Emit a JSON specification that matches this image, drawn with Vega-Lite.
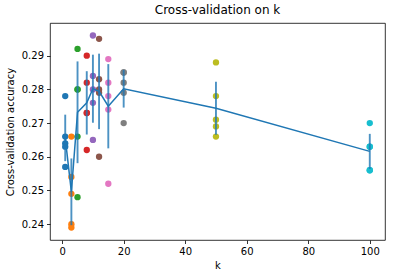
{
  "$schema": "https://vega.github.io/schema/vega-lite/v6.json",
  "width": 335,
  "height": 217,
  "autosize": "none",
  "padding": {"left": 50, "top": 23, "right": 10, "bottom": 38},
  "background": "white",
  "title": {"text": "Cross-validation on k", "font": "DejaVu Sans", "fontSize": 12, "fontWeight": "normal", "color": "#000", "offset": 6, "anchor": "middle"},
  "config": {
    "view": {"stroke": "#000", "strokeWidth": 0.8},
    "axis": {"domain": false, "grid": false, "tickColor": "#000", "tickSize": 3.5, "tickWidth": 0.8, "labelFont": "DejaVu Sans", "labelFontSize": 10, "labelColor": "#000", "labelPadding": 3, "titleFont": "DejaVu Sans", "titleFontSize": 10, "titleFontWeight": "normal", "titleColor": "#000"}
  },
  "datasets": {
    "folds": [
      {"k": 1, "acc": 0.278}, {"k": 1, "acc": 0.266}, {"k": 1, "acc": 0.264}, {"k": 1, "acc": 0.263}, {"k": 1, "acc": 0.257},
      {"k": 3, "acc": 0.266}, {"k": 3, "acc": 0.254}, {"k": 3, "acc": 0.249}, {"k": 3, "acc": 0.240}, {"k": 3, "acc": 0.239},
      {"k": 5, "acc": 0.292}, {"k": 5, "acc": 0.280}, {"k": 5, "acc": 0.280}, {"k": 5, "acc": 0.266}, {"k": 5, "acc": 0.248},
      {"k": 8, "acc": 0.290}, {"k": 8, "acc": 0.282}, {"k": 8, "acc": 0.273}, {"k": 8, "acc": 0.273}, {"k": 8, "acc": 0.262},
      {"k": 10, "acc": 0.296}, {"k": 10, "acc": 0.284}, {"k": 10, "acc": 0.280}, {"k": 10, "acc": 0.276}, {"k": 10, "acc": 0.265},
      {"k": 12, "acc": 0.295}, {"k": 12, "acc": 0.283}, {"k": 12, "acc": 0.280}, {"k": 12, "acc": 0.279}, {"k": 12, "acc": 0.260},
      {"k": 15, "acc": 0.289}, {"k": 15, "acc": 0.282}, {"k": 15, "acc": 0.278}, {"k": 15, "acc": 0.274}, {"k": 15, "acc": 0.252},
      {"k": 20, "acc": 0.285}, {"k": 20, "acc": 0.285}, {"k": 20, "acc": 0.282}, {"k": 20, "acc": 0.279}, {"k": 20, "acc": 0.270},
      {"k": 50, "acc": 0.288}, {"k": 50, "acc": 0.278}, {"k": 50, "acc": 0.271}, {"k": 50, "acc": 0.269}, {"k": 50, "acc": 0.266},
      {"k": 100, "acc": 0.270}, {"k": 100, "acc": 0.263}, {"k": 100, "acc": 0.263}, {"k": 100, "acc": 0.256}, {"k": 100, "acc": 0.256}
    ],
    "summary": [
      {"k": 1, "mean": 0.2656, "lo": 0.2587, "hi": 0.2725},
      {"k": 3, "mean": 0.2496, "lo": 0.2397, "hi": 0.2595},
      {"k": 5, "mean": 0.2732, "lo": 0.2581, "hi": 0.2883},
      {"k": 8, "mean": 0.2760, "lo": 0.2666, "hi": 0.2854},
      {"k": 10, "mean": 0.2802, "lo": 0.2701, "hi": 0.2903},
      {"k": 12, "mean": 0.2794, "lo": 0.2682, "hi": 0.2906},
      {"k": 15, "mean": 0.2750, "lo": 0.2625, "hi": 0.2875},
      {"k": 20, "mean": 0.2802, "lo": 0.2746, "hi": 0.2858},
      {"k": 50, "mean": 0.2744, "lo": 0.2665, "hi": 0.2823},
      {"k": 100, "mean": 0.2616, "lo": 0.2564, "hi": 0.2668}
    ]
  },
  "layer": [
    {
      "data": {"name": "folds"},
      "mark": {"type": "circle", "size": 40, "opacity": 1},
      "encoding": {
        "x": {"field": "k", "type": "quantitative", "scale": {"domain": [-3.95, 104.95], "nice": false, "zero": false}, "axis": {"values": [0, 20, 40, 60, 80, 100], "title": "k", "titlePadding": 4}},
        "y": {"field": "acc", "type": "quantitative", "scale": {"domain": [0.2353, 0.2997], "nice": false, "zero": false}, "axis": {"values": [0.24, 0.25, 0.26, 0.27, 0.28, 0.29], "format": ".2f", "title": "Cross-validation accuracy", "titlePadding": 6}},
        "color": {"field": "k", "type": "nominal", "scale": {"domain": [1, 3, 5, 8, 10, 12, 15, 20, 50, 100], "range": ["#1f77b4", "#ff7f0e", "#2ca02c", "#d62728", "#9467bd", "#8c564b", "#e377c2", "#7f7f7f", "#bcbd22", "#17becf"]}, "legend": null}
      }
    },
    {
      "data": {"name": "summary"},
      "mark": {"type": "rule", "color": "#1f77b4", "strokeWidth": 1.9, "opacity": 0.8},
      "encoding": {
        "x": {"field": "k", "type": "quantitative"},
        "y": {"field": "lo", "type": "quantitative"},
        "y2": {"field": "hi"}
      }
    },
    {
      "data": {"name": "summary"},
      "mark": {"type": "line", "color": "#1f77b4", "strokeWidth": 1.5},
      "encoding": {
        "x": {"field": "k", "type": "quantitative"},
        "y": {"field": "mean", "type": "quantitative"}
      }
    }
  ]
}
